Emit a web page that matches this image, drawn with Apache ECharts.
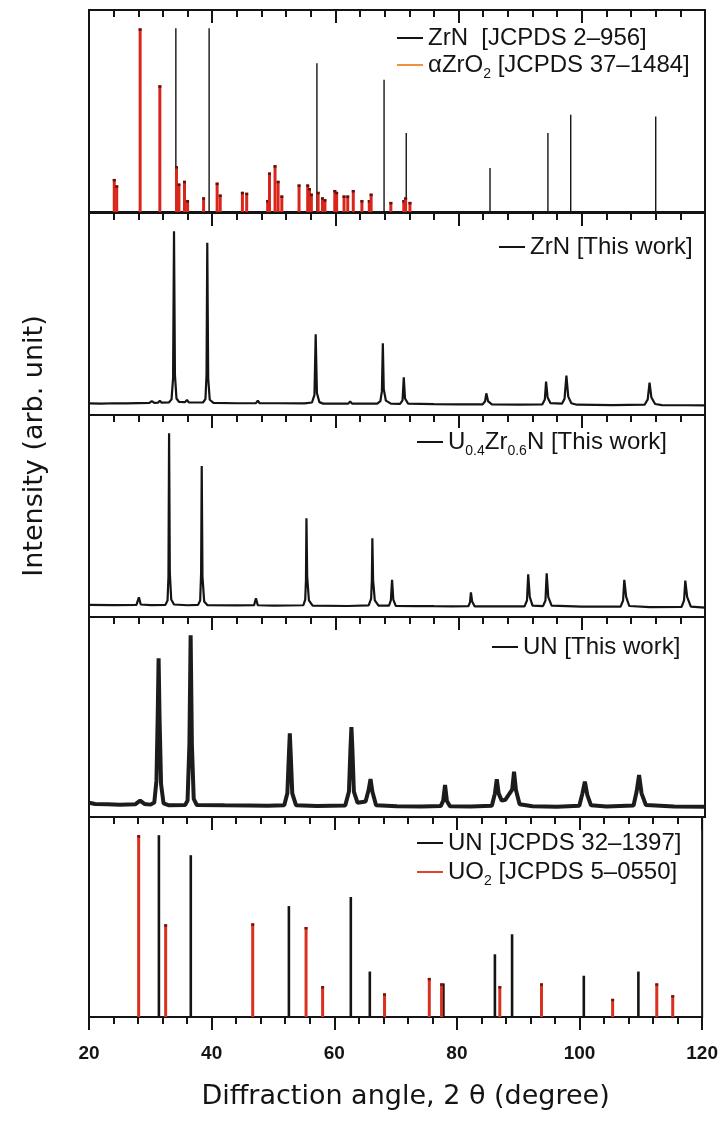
<!DOCTYPE html>
<html><head><meta charset="utf-8">
<script src="https://cdn.jsdelivr.net/npm/echarts@6/dist/echarts.min.js"></script>
<style>html,body{margin:0;padding:0;background:#fff}#c{width:721px;height:1122px}</style>
</head><body><div id="c"></div><script>
// ---------------- data (2θ in degree, intensity in arb. unit) ----------------
const xTickLabels = [20, 40, 60, 80, 100, 120];

const zrnRefPeaks = [[34.1,100],[39.5,100],[57.0,81],[67.9,72],[71.5,43],[85.1,24],[94.5,43],[98.2,53],[112.0,52]];
const zro2RefPeaks = [[24.1,18],[24.5,14.5],[28.3,100],[31.5,69],[34.2,25],[34.6,15.5],[35.5,17],[36.0,6.5],
  [38.6,8],[40.8,16],[41.3,9.5],[44.9,11],[45.6,10.5],[49.0,6.5],[49.3,21.5],[50.2,25.5],[50.7,17],[51.3,9],
  [54.1,15],[55.5,15],[55.8,13],[56.1,10],[57.2,11],[57.9,8],[58.3,7],[59.9,12],[60.2,11],[61.4,9],[62.0,9],
  [62.9,12],[64.3,6.5],[65.5,6.5],[65.8,10],[69.0,5.5],[71.1,6.5],[71.4,8],[72.1,5.5]];

const zrnWork = [[20,6.3],[22,6.2],[24,6.4],[26,6.3],[28,6.5],[29.8,6.6],[30.2,7.6],[30.6,6.6],[31.2,6.7],[31.5,7.8],
  [31.8,6.7],[33.0,6.9],[33.4,8.5],[33.65,20],[33.8,100],[33.95,22],[34.2,9],[34.6,7.2],[35.6,7.0],[35.9,8.2],[36.2,6.9],
  [38.5,6.8],[38.9,8.6],[39.08,22],[39.2,93.8],[39.35,20],[39.6,8.3],[40.2,6.6],[44,6.4],[47.1,6.5],[47.4,7.8],[47.7,6.4],
  [50.0,6.4],[50.3,7.3],[50.6,6.4],[55,6.3],[56.2,6.8],[56.6,11],[56.8,44],[57.0,12],[57.4,7],[58,6.2],[62.1,6.2],
  [62.4,7.4],[62.7,6.2],[66.8,6.2],[67.3,7.5],[67.55,13],[67.7,39],[67.85,14],[68.2,7.8],[69,6.2],[70.5,6.1],[70.9,8],
  [71.1,20.5],[71.3,9],[71.8,6.2],[76,5.9],[80,5.8],[83.9,5.8],[84.3,7.5],[84.5,11.8],[84.8,7.4],[85.4,5.8],[90,5.6],
  [93.6,5.8],[94.0,8.5],[94.2,18.2],[94.45,9.5],[94.9,6.5],[96.8,6.2],[97.2,8.8],[97.5,21.4],[97.8,10],[98.3,6.4],
  [99.2,5.6],[105,5.4],[110.2,5.6],[110.7,8.5],[111.0,17.6],[111.3,9.5],[111.9,6],[113,5.4],[117,5.3],[120,5.2]];

const uzrnWork = [[20,6.6],[24,6.5],[27.7,6.6],[28.1,10.7],[28.4,6.8],[30,6.5],[32.4,6.6],[32.75,9],[32.9,22],[33.0,100],
  [33.12,24],[33.35,9.5],[33.8,6.8],[36,6.4],[37.7,6.6],[38.05,9],[38.2,24],[38.3,82.2],[38.42,22],[38.7,8.4],[39.2,6.5],
  [44,6.3],[46.8,6.4],[47.1,10.2],[47.4,6.4],[50,6.2],[54.8,6.4],[55.1,9.5],[55.22,20],[55.3,53.8],[55.42,22],[55.7,9],
  [56.3,6.2],[62,6.0],[65.4,6.3],[65.8,10],[65.92,20],[66.0,42.9],[66.12,20],[66.4,9],[67,6.2],[68.7,6.2],[69.0,9],
  [69.2,20.2],[69.4,9.5],[69.8,6.1],[73,5.9],[75.6,6.0],[75.8,6.9],[76.0,5.9],[79,5.8],[81.6,5.9],[81.85,8],[82.0,13.4],
  [82.2,8.4],[82.6,5.8],[87.3,5.8],[87.5,6.8],[87.7,5.8],[90.7,5.8],[91.1,9],[91.3,23.2],[91.55,11],[92,6.2],[93.7,5.9],
  [94.1,9],[94.3,23.8],[94.55,11],[95.1,6.2],[100,5.6],[106.3,5.6],[106.7,9],[106.9,20.2],[107.2,11],[107.7,6],[111,5.4],
  [116.2,5.5],[116.6,9],[116.8,19.8],[117.1,11],[117.7,5.6],[120,5.1]];

const unWork = [[20,7.8],[21,7.2],[23,7.0],[25,6.8],[27.5,7.0],[28.3,9],[29.0,7.2],[30.0,6.8],[30.6,8],[30.95,20],
  [31.15,55],[31.3,87.3],[31.45,55],[31.7,18],[32.1,7.5],[33,6.4],[35.6,6.6],[36.0,9],[36.3,40],[36.5,100],[36.7,40],
  [37.0,10],[37.5,6.6],[42,6.4],[46,6.3],[49,6.2],[51.7,6.5],[52.2,13],[52.45,34],[52.6,46],[52.75,34],[53.0,13],[53.6,6.5],
  [57,6.0],[61.6,6.3],[62.2,14],[62.45,38],[62.6,49.5],[62.75,38],[63.0,14],[63.6,7.8],[64.9,8.5],[65.4,15],[65.7,20.9],
  [66.0,14],[66.6,6.5],[70,5.9],[74,5.8],[77.1,6.0],[77.5,9],[77.8,17.6],[78.1,8.8],[78.6,5.9],[82,5.8],[85.4,6.2],
  [85.9,13],[86.2,20.7],[86.5,13],[87.0,9],[87.6,9.5],[88.7,15],[89.0,24.9],[89.3,15],[89.9,7],[92,5.9],[96,5.7],
  [99.6,6.2],[100.1,13],[100.5,19.4],[100.9,12],[101.5,6.4],[104,5.8],[108.4,6.3],[108.9,14],[109.3,23.1],[109.7,13],
  [110.4,6.6],[115,5.8],[120,5.7]];

const unRefPeaks = [[31.4,100],[36.6,89],[52.6,61],[62.7,66],[65.8,25],[77.8,18.5],[86.2,34.5],[89.0,45.5],[100.7,22.7],[109.6,25]];
const uo2RefPeaks = [[28.1,100],[32.5,51],[46.7,51.5],[55.4,49.5],[58.1,17],[68.2,13],[75.5,21.5],[77.5,18.5],[87.0,17],
  [93.8,18.5],[105.4,10],[112.6,18.5],[115.2,12]];

const names = {
  zrnRef: 'ZrN  [JCPDS 2–956]',
  zro2Ref: 'αZrO2 [JCPDS 37–1484]',
  zrnWork: 'ZrN [This work]',
  uzrnWork: 'U0.4Zr0.6N [This work]',
  unWork: 'UN [This work]',
  unRef: 'UN [JCPDS 32–1397]',
  uo2Ref: 'UO2 [JCPDS 5–0550]'
};
const legendRichText = {
  [names.zrnRef]: '{n|ZrN  [JCPDS 2–956]}',
  [names.zro2Ref]: '{n|αZrO}{s|2}{n| [JCPDS 37–1484]}',
  [names.zrnWork]: '{n|ZrN [This work]}',
  [names.uzrnWork]: '{n|U}{s|0.4}{n|Zr}{s|0.6}{n|N [This work]}',
  [names.unWork]: '{n|UN [This work]}',
  [names.unRef]: '{n|UN [JCPDS 32–1397]}',
  [names.uo2Ref]: '{n|UO}{s|2}{n| [JCPDS 5–0550]}'
};

// ---------------- layout ----------------
const tops = [10, 213, 415, 617, 817];
const heights = [202, 202, 202, 200, 200];
const INK = '#141414';

function stick(color, width, cap) {
  return function (params, api) {
    const x = api.value(0), y = api.value(1);
    const p0 = api.coord([x, 0]), p1 = api.coord([x, y]);
    const ch = [{ type: 'line', shape: { x1: p0[0], y1: p0[1], x2: p1[0], y2: p1[1] }, style: { stroke: color, lineWidth: width } }];
    if (cap) ch.push({ type: 'line', shape: { x1: p1[0], y1: p1[1], x2: p1[0], y2: p1[1] + 2.5 }, style: { stroke: cap, lineWidth: width } });
    return { type: 'group', children: ch };
  };
}

const grids = tops.map((t, i) => ({ left: 89, right: 16, top: t, height: heights[i], show: true,
  borderColor: INK, borderWidth: 2, backgroundColor: 'transparent' }));

const tickCommon = { lineStyle: { color: INK, width: 2 } };
const xAxes = tops.map((t, i) => ({
  gridIndex: i, type: 'value', min: 20, max: 120, interval: 20, position: 'top',
  axisLine: { show: false, onZero: false },
  axisTick: Object.assign({ show: true, inside: true, length: 13 }, tickCommon),
  minorTick: Object.assign({ show: true, splitNumber: 5, length: 7 }, tickCommon),
  axisLabel: { show: false }, splitLine: { show: false }, minorSplitLine: { show: false }
}));
xAxes.push({
  gridIndex: 4, type: 'value', min: 20, max: 120, interval: 20, position: 'bottom',
  axisLine: { show: false, onZero: false },
  axisTick: Object.assign({ show: true, inside: false, length: 13 }, tickCommon),
  minorTick: Object.assign({ show: true, splitNumber: 5, length: 7 }, tickCommon),
  axisLabel: { show: true, margin: 27, fontSize: 19, fontWeight: 'bold', fontFamily: 'Liberation Sans', color: INK,
    formatter: v => (xTickLabels.indexOf(v) >= 0 ? String(v) : '') },
  splitLine: { show: false },
  name: 'Diffraction angle, 2 θ (degree)', nameLocation: 'middle', nameGap: 66,
  nameTextStyle: { fontSize: 27, fontFamily: 'DejaVu Sans', color: INK, padding: [0, 0, 0, 20] }
});
const yAxes = tops.map((t, i) => ({ gridIndex: i, type: 'value', min: 0, max: 110, show: false }));

const rich = {
  n: { fontSize: 24, lineHeight: 26, fontFamily: 'Liberation Sans', color: INK },
  s: { fontSize: 14, fontFamily: 'Liberation Sans', color: INK, padding: [19, 0, 0, 0] }
};
function mkLegend(data, left, top, gap) {
  return { data: data, left: left, top: top, orient: 'vertical', itemGap: gap, icon: 'rect',
    itemWidth: 26, itemHeight: 2, selectedMode: false, padding: 0,
    formatter: n => legendRichText[n], textStyle: { rich: rich } };
}
const legends = [
  mkLegend([{ name: names.zrnRef, itemStyle: { color: INK } }, { name: names.zro2Ref, itemStyle: { color: '#f0913f' } }], 397, 26, 3),
  mkLegend([{ name: names.zrnWork, itemStyle: { color: INK } }], 499, 235, 0),
  mkLegend([{ name: names.uzrnWork, itemStyle: { color: INK } }], 417, 430, 0),
  mkLegend([{ name: names.unWork, itemStyle: { color: INK } }], 492, 635, 0),
  mkLegend([{ name: names.unRef, itemStyle: { color: INK } }, { name: names.uo2Ref, itemStyle: { color: '#e0452a' } }], 417, 831, 5)
];

const series = [
  { name: names.zrnRef, type: 'custom', xAxisIndex: 0, yAxisIndex: 0, data: zrnRefPeaks, encode: { x: 0, y: 1 },
    itemStyle: { color: INK }, renderItem: stick(INK, 1.4) },
  { name: names.zro2Ref, type: 'custom', xAxisIndex: 0, yAxisIndex: 0, data: zro2RefPeaks, encode: { x: 0, y: 1 },
    itemStyle: { color: '#d9261c' }, renderItem: stick('#d9261c', 3, '#5a1410') },
  { name: names.zrnWork, type: 'line', xAxisIndex: 1, yAxisIndex: 1, data: zrnWork, showSymbol: false,
    lineStyle: { color: INK, width: 2.2 }, itemStyle: { color: INK } },
  { name: names.uzrnWork, type: 'line', xAxisIndex: 2, yAxisIndex: 2, data: uzrnWork, showSymbol: false,
    lineStyle: { color: INK, width: 2.2 }, itemStyle: { color: INK } },
  { name: names.unWork, type: 'line', xAxisIndex: 3, yAxisIndex: 3, data: unWork, showSymbol: false,
    lineStyle: { color: '#1c1c1c', width: 4 }, itemStyle: { color: INK } },
  { name: names.unRef, type: 'custom', xAxisIndex: 4, yAxisIndex: 4, data: unRefPeaks, encode: { x: 0, y: 1 },
    itemStyle: { color: INK }, renderItem: stick(INK, 2.6) },
  { name: names.uo2Ref, type: 'custom', xAxisIndex: 4, yAxisIndex: 4, data: uo2RefPeaks, encode: { x: 0, y: 1 },
    itemStyle: { color: '#d9301f' }, renderItem: stick('#d9301f', 3, '#6a1a10') }
];

const chart = echarts.init(document.getElementById('c'), null, { renderer: 'canvas' });
chart.setOption({
  animation: false,
  backgroundColor: '#fff',
  grid: grids, xAxis: xAxes, yAxis: yAxes, legend: legends, series: series,
  graphic: [{ type: 'text', x: 35, y: 446, rotation: Math.PI / 2,
    style: { text: 'Intensity (arb. unit)', font: '27px "DejaVu Sans"', fill: INK, align: 'center', verticalAlign: 'middle' } }]
});
</script></body></html>
